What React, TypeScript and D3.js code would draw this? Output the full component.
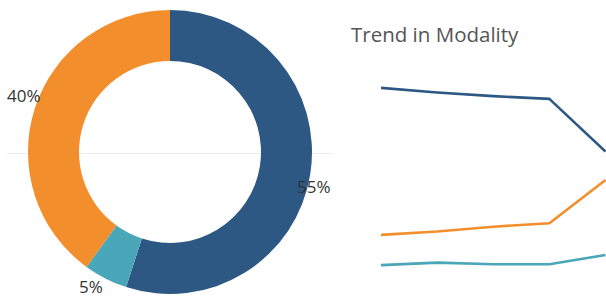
import React, { useEffect, useRef } from 'react';
import * as d3 from 'd3';

// donut shares (clockwise from 12 o'clock)
const modes = ['Online', 'Hybrid', 'In person'];
const shares = [55, 5, 40];
const colors = ['#2c5883', '#4aa6b9', '#f28e2b'];

// trend lines
const years = ['2016', '2017', '2018', '2019', '2020'];
const onlineTrend = [62.0, 60.5, 59.3, 58.4, 41.1];
const inPersonTrend = [13.8, 14.9, 16.5, 17.6, 31.8];
const hybridTrend = [3.9, 4.7, 4.2, 4.2, 7.2];

const App = () => {
    const svgRef = useRef<SVGSVGElement>(null);

    useEffect(() => {
        const svg = d3.select(svgRef.current);
        svg.selectAll('*').remove();
        const font = '"Open Sans", sans-serif';

        // faint zero line behind the donut
        svg.append('line').attr('x1', 7).attr('x2', 333).attr('y1', 153.5).attr('y2', 153.5)
            .attr('stroke', '#ececec').attr('stroke-width', 1);

        const cx = 170, cy = 152, outer = 142, inner = 91;
        const pie = d3.pie<number>().sort(null).value((d) => d);
        const arcs = pie(shares);
        const arc = d3.arc<d3.PieArcDatum<number>>().innerRadius(inner).outerRadius(outer);
        const g = svg.append('g').attr('transform', `translate(${cx},${cy})`);
        g.selectAll('path').data(arcs).enter().append('path')
            .attr('d', arc).attr('fill', (d, i) => colors[i]);

        // labels sit on the outer rim
        const labelPos = [[127, 41], [-91, 141], [-163, -50]];
        g.selectAll('text.lbl').data(arcs).enter().append('text').attr('class', 'lbl')
            .attr('x', (d, i) => labelPos[i][0]).attr('y', (d, i) => labelPos[i][1])
            .attr('font-family', font).attr('font-size', 17).attr('fill', '#333')
            .text((d) => `${d.data}%`);

        // trend chart
        svg.append('text').attr('x', 351).attr('y', 42).attr('font-family', font)
            .attr('font-size', 20.5).attr('fill', '#555').text('Trend in Modality');

        const x = d3.scalePoint().domain(years).range([381, 605.5]);
        const y = d3.scaleLinear().domain([0, 100]).range([277, -28]);
        const line = d3.line<number>().x((d, i) => x(years[i])!).y((d) => y(d));
        const series = [onlineTrend, hybridTrend, inPersonTrend];
        svg.selectAll('path.trend').data(series).enter().append('path').attr('class', 'trend')
            .attr('d', (d) => line(d)).attr('fill', 'none')
            .attr('stroke', (d, i) => colors[i]).attr('stroke-width', 2.6)
            .attr('stroke-linejoin', 'round');
    }, []);

    return (
        <svg ref={svgRef} width={606} height={297}
            style={{ position: 'absolute', left: 0, top: 0, background: '#fff' }} />
    );
};

export default App;
